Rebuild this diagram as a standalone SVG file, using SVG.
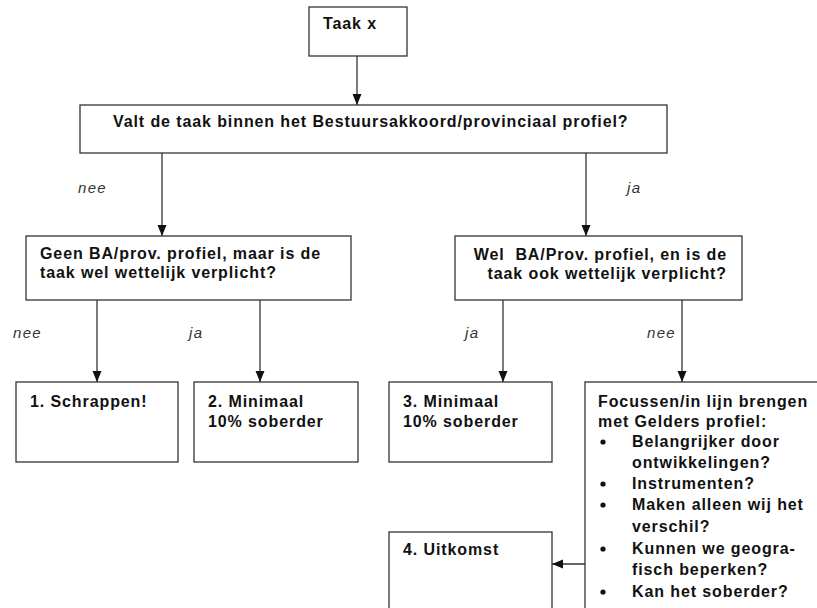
<svg xmlns="http://www.w3.org/2000/svg" width="817" height="608" viewBox="0 0 817 608">
<style>
.box{fill:#fff;stroke:#333;stroke-width:1.3}
.t{font-family:"Liberation Sans",Arial,sans-serif;font-size:16px;font-weight:bold;letter-spacing:0.9px;fill:#111}
.lbl{font-family:"Liberation Sans",Arial,sans-serif;font-size:15px;font-style:italic;letter-spacing:1.3px;fill:#333}
.c{stroke:#333;stroke-width:1.3;fill:none}
</style>
<defs>
<marker id="ah" markerUnits="userSpaceOnUse" markerWidth="11" markerHeight="11" viewBox="0 0 11 11" refX="11" refY="5.5" orient="auto">
<path d="M0,1 L11,5.5 L0,10 z" fill="#111"/>
</marker>
</defs>
<rect width="817" height="608" fill="#fff"/>
<g id="connectors">
<line class="c" x1="357" y1="56" x2="357" y2="105" marker-end="url(#ah)"/>
<line class="c" x1="162" y1="153" x2="162" y2="236" marker-end="url(#ah)"/>
<line class="c" x1="586" y1="153" x2="586" y2="236" marker-end="url(#ah)"/>
<line class="c" x1="97" y1="300" x2="97" y2="382" marker-end="url(#ah)"/>
<line class="c" x1="260" y1="300" x2="260" y2="382" marker-end="url(#ah)"/>
<line class="c" x1="503" y1="300" x2="503" y2="382" marker-end="url(#ah)"/>
<line class="c" x1="682" y1="300" x2="682" y2="382" marker-end="url(#ah)"/>
<line class="c" x1="585" y1="564" x2="552" y2="564" marker-end="url(#ah)"/>
<text class="lbl" x="78" y="193">nee</text>
<text class="lbl" x="627" y="193">ja</text>
<text class="lbl" x="13" y="338">nee</text>
<text class="lbl" x="189" y="338">ja</text>
<text class="lbl" x="465" y="338">ja</text>
<text class="lbl" x="647" y="338">nee</text>
</g>
<g id="taak">
<rect class="box" x="309" y="7" width="98" height="49"/>
<text class="t" x="323" y="29">Taak x</text>
</g>
<g id="vraag1">
<rect class="box" x="80" y="105" width="587" height="48"/>
<text class="t" x="113" y="127">Valt de taak binnen het Bestuursakkoord/provinciaal profiel?</text>
</g>
<g id="geen">
<rect class="box" x="26" y="236" width="325" height="64"/>
<text class="t" x="40" y="259">Geen BA/prov. profiel, maar is de</text>
<text class="t" x="40" y="278">taak wel wettelijk verplicht?</text>
</g>
<g id="wel">
<rect class="box" x="455" y="236" width="287" height="64"/>
<text class="t" x="727" y="260" text-anchor="end" xml:space="preserve">Wel  BA/Prov. profiel, en is de</text>
<text class="t" x="727" y="279" text-anchor="end">taak ook wettelijk verplicht?</text>
</g>
<g id="schrappen">
<rect class="box" x="16" y="382" width="162" height="80"/>
<text class="t" x="30" y="407">1. Schrappen!</text>
</g>
<g id="minimaal2">
<rect class="box" x="194" y="382" width="164" height="80"/>
<text class="t" x="208" y="407">2. Minimaal</text>
<text class="t" x="208" y="427">10% soberder</text>
</g>
<g id="minimaal3">
<rect class="box" x="389" y="382" width="163" height="80"/>
<text class="t" x="403" y="407">3. Minimaal</text>
<text class="t" x="403" y="427">10% soberder</text>
</g>
<g id="focussen">
<rect class="box" x="585" y="382" width="250" height="240"/>
<text class="t" x="598" y="407">Focussen/in lijn brengen</text>
<text class="t" x="598" y="427">met Gelders profiel:</text>
<circle cx="603" cy="442" r="2.6" fill="#111"/>
<text class="t" x="632" y="447">Belangrijker door</text>
<text class="t" x="632" y="468">ontwikkelingen?</text>
<circle cx="603" cy="484" r="2.6" fill="#111"/>
<text class="t" x="632" y="489">Instrumenten?</text>
<circle cx="603" cy="505" r="2.6" fill="#111"/>
<text class="t" x="632" y="510">Maken alleen wij het</text>
<text class="t" x="632" y="532">verschil?</text>
<circle cx="603" cy="549" r="2.6" fill="#111"/>
<text class="t" x="632" y="554">Kunnen we geogra-</text>
<text class="t" x="632" y="575">fisch beperken?</text>
<circle cx="603" cy="592" r="2.6" fill="#111"/>
<text class="t" x="632" y="597">Kan het soberder?</text>
</g>
<g id="uitkomst">
<rect class="box" x="389" y="532" width="163" height="90"/>
<text class="t" x="403" y="555">4. Uitkomst</text>
</g>
</svg>
